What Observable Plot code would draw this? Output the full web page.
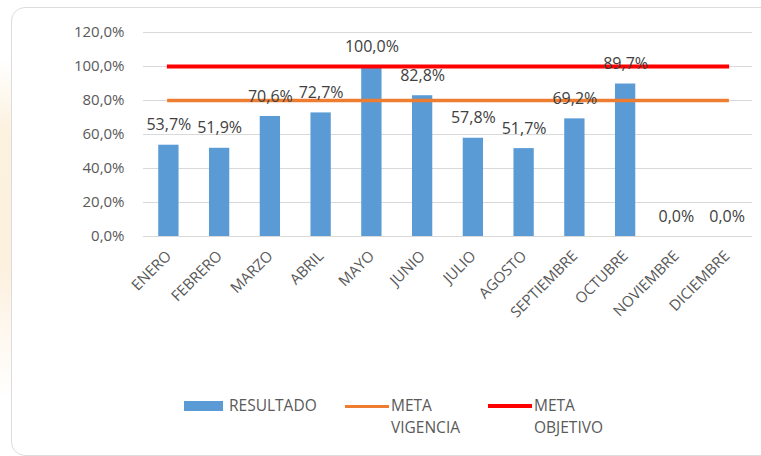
<!DOCTYPE html>
<html>
<head>
<meta charset="utf-8">
<script src="https://cdn.jsdelivr.net/npm/d3@7"></script>
<script src="https://cdn.jsdelivr.net/npm/@observablehq/plot@0.6"></script>
<style>
  html, body { margin: 0; padding: 0; background: #fff; }
  #wrap { position: relative; width: 761px; height: 456px; overflow: hidden; background: #fff; font-family: "Open Sans", sans-serif; }
  #cream { position: absolute; left: 0; top: 60px; width: 11px; height: 340px; background: linear-gradient(#fff, #fcf2e0 20%, #fcf0de 60%, #fff); }
  #frame { position: absolute; left: 11px; top: 7px; width: 800px; height: 447px; border: 1.5px solid #dcdcdc; border-radius: 14px; background: #fff; }
  #chart { position: absolute; left: 0; top: 0; }
  .lg { position: absolute; font-size: 15.5px; color: #595959; line-height: 22px; }
  .sw { position: absolute; }
</style>
</head>
<body>
<div id="wrap">
  <div id="cream"></div>
  <div id="frame"></div>
  <div id="chart"></div>
  <div id="legend"></div>
</div>
<script>
const months = ["ENERO","FEBRERO","MARZO","ABRIL","MAYO","JUNIO","JULIO","AGOSTO","SEPTIEMBRE","OCTUBRE","NOVIEMBRE","DICIEMBRE"];
const resultado = [53.7, 51.9, 70.6, 72.7, 100.0, 82.8, 57.8, 51.7, 69.2, 89.7, 0.0, 0.0];
const metaVigencia = [80,80,80,80,80,80,80,80,80,80,80,80];
const metaObjetivo = [100,100,100,100,100,100,100,100,100,100,100,100];
const yTicks = [0, 20, 40, 60, 80, 100, 120];
const seriesNames = ["RESULTADO", "META\nVIGENCIA", "META\nOBJETIVO"];
const seriesColors = ["#5B9BD5", "#ED7D31", "#FF0000"];

const fmt = d => d.toFixed(1).replace(".", ",") + "%";
const rows = months.map((m, i) => ({m, r: resultado[i], v: metaVigencia[i], o: metaObjetivo[i]}));

const chart = Plot.plot({
  width: 761,
  height: 340,
  marginLeft: 143,
  marginRight: 9,
  marginTop: 32,
  marginBottom: 104,
  style: {background: "transparent", fontFamily: "Open Sans, sans-serif", fontSize: "14px", color: "#595959", overflow: "visible"},
  x: {domain: months, paddingInner: 0.6, paddingOuter: 0.3, round: false, label: null},
  y: {domain: [0, 120], label: null},
  marks: [
    Plot.gridY(yTicks, {stroke: "#d9d9d9", strokeOpacity: 1, strokeWidth: 1}),
    Plot.axisY({ticks: yTicks, tickFormat: fmt, tickSize: 0, tickPadding: 19, label: null, fontSize: 15, fill: "#595959"}),
    Plot.axisX({tickRotate: -45, tickSize: 0, tickPadding: 17, label: null, fontSize: 15, fill: "#595959"}),
    Plot.barY(rows, {x: "m", y: "r", fill: seriesColors[0]}),
    Plot.lineY(rows, {x: "m", y: "v", stroke: seriesColors[1], strokeWidth: 3.5, strokeLinecap: "square"}),
    Plot.lineY(rows, {x: "m", y: "o", stroke: seriesColors[2], strokeWidth: 4, strokeLinecap: "square"}),
    Plot.text(rows, {x: "m", y: "r", text: d => fmt(d.r), dy: -20, fill: "#404040", fontSize: 16, lineAnchor: "middle"})
  ]
});
document.getElementById("chart").appendChild(chart);

// legend
const lg = document.getElementById("legend");
const items = [
  {sw: {left: 184, top: 401, width: 39, height: 10}, tx: {left: 229, top: 394}},
  {sw: {left: 345, top: 404.5, width: 44, height: 3.5}, tx: {left: 391, top: 394}},
  {sw: {left: 488, top: 404, width: 44, height: 4}, tx: {left: 534, top: 394}}
];
items.forEach((it, i) => {
  const s = document.createElement("div");
  s.className = "sw";
  Object.assign(s.style, {left: it.sw.left + "px", top: it.sw.top + "px", width: it.sw.width + "px", height: it.sw.height + "px", background: seriesColors[i]});
  lg.appendChild(s);
  const t = document.createElement("div");
  t.className = "lg";
  Object.assign(t.style, {left: it.tx.left + "px", top: it.tx.top + "px"});
  t.innerText = seriesNames[i];
  lg.appendChild(t);
});
</script>
</body>
</html>
